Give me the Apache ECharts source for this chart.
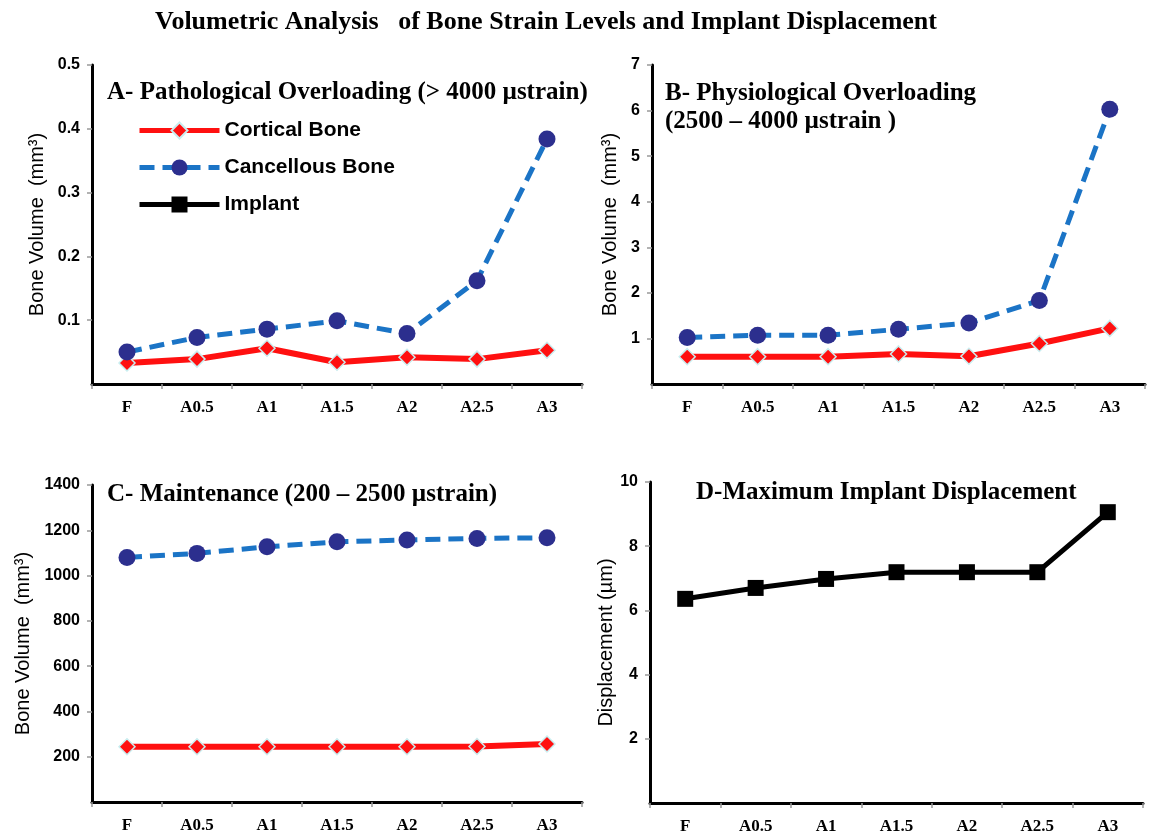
<!DOCTYPE html>
<html lang="en">
<head>
<meta charset="utf-8">
<title>Volumetric Analysis of Bone Strain Levels and Implant Displacement</title>
<script src="https://cdn.jsdelivr.net/npm/echarts@6/dist/echarts.min.js"></script>
<style>
  html, body { margin: 0; padding: 0; background: #fff; }
  #main { width: 1150px; height: 840px; }
</style>
</head>
<body>
<div id="main"></div>
<script>
// x categories (same for all four panels)
var stages = ['F', 'A0.5', 'A1', 'A1.5', 'A2', 'A2.5', 'A3'];

// A - pathological overloading (> 4000 ustrain), mm3
var pathCortical   = [0.033, 0.039, 0.056, 0.034, 0.042, 0.039, 0.053];
var pathCancellous = [0.050, 0.073, 0.086, 0.099, 0.079, 0.162, 0.384];

// B - physiological overloading (2500 - 4000 ustrain), mm3
var physCortical   = [0.60, 0.60, 0.60, 0.66, 0.61, 0.89, 1.22];
var physCancellous = [1.02, 1.07, 1.07, 1.20, 1.34, 1.83, 6.03];

// C - maintenance (200 - 2500 ustrain), mm3
var maintCortical   = [244, 244, 244, 244, 244, 245, 256];
var maintCancellous = [1080, 1098, 1127, 1149, 1157, 1164, 1167];

// D - maximum implant displacement, um
var implantDisp = [6.36, 6.70, 6.98, 7.19, 7.19, 7.19, 9.06];

var RED = '#ff1010', BLUE = '#1b74c6', NAVY = '#2c2f8e';
var serifBold = { fontFamily: 'Liberation Serif', fontWeight: 'bold', color: '#000' };

function xAxisFor(grid) {
  return {
    type: 'category', gridIndex: grid, data: stages, boundaryGap: true,
    axisLine: { lineStyle: { color: '#000', width: 3 } },
    axisTick: { show: true, length: 5, lineStyle: { color: '#999', width: 1.5 } },
    axisLabel: { margin: 15, fontFamily: 'Liberation Serif', fontWeight: 'bold', fontSize: 17, color: '#000' },
    splitLine: { show: false }
  };
}

function yAxisFor(grid, max, step, name, gap) {
  return {
    type: 'value', gridIndex: grid, min: 0, max: max, interval: step,
    name: name, nameLocation: 'middle', nameGap: gap,
    nameTextStyle: { fontFamily: 'Liberation Sans', fontSize: 20, color: '#000' },
    axisLine: { show: true, lineStyle: { color: '#000', width: 3 } },
    axisTick: { show: true, length: 5, lineStyle: { color: '#999', width: 1.5 } },
    axisLabel: {
      showMinLabel: false, margin: 12,
      formatter: function (v) { return String(Math.round(v * 10) / 10); },
      fontFamily: 'Liberation Sans', fontWeight: 'bold', fontSize: 16, color: '#000'
    },
    splitLine: { show: false }
  };
}

function cortical(grid, data) {
  return {
    name: 'Cortical Bone', type: 'line', xAxisIndex: grid, yAxisIndex: grid, data: data,
    symbol: 'diamond', symbolSize: 16,
    lineStyle: { color: RED, width: 6 },
    itemStyle: { color: RED, borderColor: '#c9eef0', borderWidth: 1.5 },
    z: 3
  };
}

function cancellous(grid, data) {
  return {
    name: 'Cancellous Bone', type: 'line', xAxisIndex: grid, yAxisIndex: grid, data: data,
    symbol: 'circle', symbolSize: 17,
    lineStyle: { color: BLUE, width: 5, type: [15, 8] },
    itemStyle: { color: NAVY },
    z: 4
  };
}

function panelTitle(text, x, y, extra) {
  return {
    text: text, left: x, top: y, padding: 0,
    textStyle: Object.assign({ fontSize: 25 }, serifBold, extra || {})
  };
}

var chart = echarts.init(document.getElementById('main'));

var option = {
  backgroundColor: '#fff',
  animation: false,
  title: [
    panelTitle('Volumetric Analysis   of Bone Strain Levels and Implant Displacement', 155, 9, { fontSize: 26 }),
    panelTitle('A- Pathological Overloading (> 4000 µstrain)', 107, 80),
    panelTitle('B- Physiological Overloading\n(2500 – 4000 µstrain )', 665, 80, { lineHeight: 28 }),
    panelTitle('C- Maintenance (200 – 2500 µstrain)', 107, 482),
    panelTitle('D-Maximum Implant Displacement', 696, 480)
  ],
  legend: {
    orient: 'vertical', left: 137, top: 120, padding: 0,
    itemWidth: 80, itemHeight: 20, itemGap: 16,
    data: ['Cortical Bone', 'Cancellous Bone', 'Implant'],
    lineStyle: { width: 5 },
    textStyle: { fontFamily: 'Liberation Sans', fontWeight: 'bold', fontSize: 21, color: '#000' }
  },
  grid: [
    { left: 92,  top: 65,  width: 490, height: 319 },
    { left: 652, top: 65,  width: 493, height: 319 },
    { left: 92,  top: 485, width: 490, height: 317 },
    { left: 650, top: 482, width: 493, height: 321 }
  ],
  xAxis: [xAxisFor(0), xAxisFor(1), xAxisFor(2), xAxisFor(3)],
  yAxis: [
    yAxisFor(0, 0.5, 0.1, 'Bone Volume  (mm³)', 45),
    yAxisFor(1, 7, 1, 'Bone Volume  (mm³)', 32),
    yAxisFor(2, 1400, 200, 'Bone Volume  (mm³)', 59),
    yAxisFor(3, 10, 2, 'Displacement (µm)', 34)
  ],
  series: [
    cortical(0, pathCortical),
    cancellous(0, pathCancellous),
    cortical(1, physCortical),
    cancellous(1, physCancellous),
    cortical(2, maintCortical),
    cancellous(2, maintCancellous),
    {
      name: 'Implant', type: 'line', xAxisIndex: 3, yAxisIndex: 3, data: implantDisp,
      symbol: 'rect', symbolSize: 16,
      lineStyle: { color: '#000', width: 5 },
      itemStyle: { color: '#000' }
    }
  ]
};

chart.setOption(option);
</script>
</body>
</html>
